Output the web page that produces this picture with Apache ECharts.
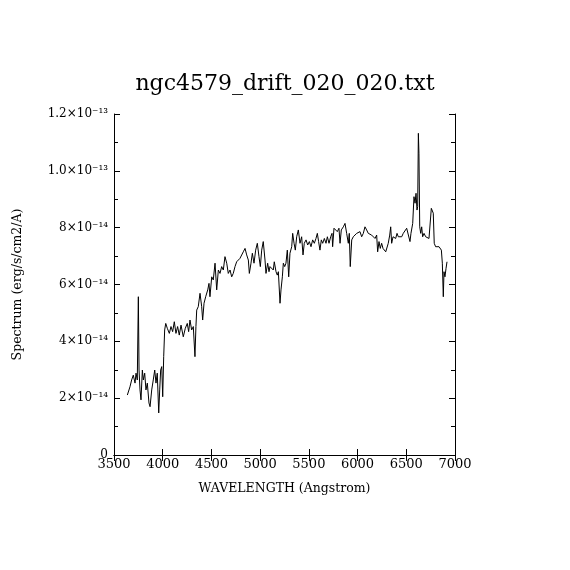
<!DOCTYPE html>
<html>
<head>
<meta charset="utf-8">
<script src="https://cdn.jsdelivr.net/npm/echarts@6/dist/echarts.min.js"></script>
<style>
  html, body { margin: 0; padding: 0; background: #fff; }
  #main { width: 570px; height: 570px; }
</style>
</head>
<body>
<div id="main"></div>
<script>
var myChart = echarts.init(document.getElementById('main'));

// wavelength in Angstrom, flux in units of 1e-14 erg/s/cm2/A
const wavelength = [
  3637, 3664, 3681, 3698, 3716, 3726, 3739, 3750, 3757, 3767, 3777, 3791, 3801, 3815, 3828, 3842,
  3859, 3870, 3887, 3903, 3918, 3931, 3944, 3959, 3969, 3979, 3990, 4000, 4010, 4020, 4031, 4047,
  4068, 4085, 4102, 4119, 4136, 4153, 4170, 4188, 4211, 4232, 4252, 4266, 4280, 4297, 4314, 4331,
  4341, 4349, 4365, 4383, 4400, 4410, 4424, 4441, 4462, 4475, 4485, 4503, 4519, 4537, 4554, 4571,
  4588, 4605, 4622, 4639, 4657, 4673, 4691, 4708, 4724, 4742, 4759, 4776, 4793, 4811, 4827, 4845,
  4862, 4879, 4889, 4906, 4920, 4937, 4954, 4971, 4988, 5002, 5016, 5032, 5050, 5060, 5077, 5091,
  5101, 5119, 5135, 5145, 5163, 5176, 5187, 5204, 5214, 5228, 5238, 5252, 5265, 5279, 5293, 5306,
  5324, 5334, 5348, 5361, 5375, 5392, 5409, 5426, 5440, 5453, 5471, 5488, 5505, 5522, 5539, 5556,
  5573, 5587, 5600, 5614, 5628, 5642, 5659, 5676, 5690, 5707, 5724, 5738, 5744, 5758, 5775, 5792,
  5809, 5820, 5833, 5854, 5871, 5888, 5905, 5915, 5925, 5940, 5956, 5974, 5991, 6007, 6025, 6042,
  6059, 6076, 6093, 6110, 6128, 6144, 6161, 6179, 6196, 6206, 6220, 6233, 6247, 6261, 6274, 6289,
  6302, 6315, 6330, 6340, 6350, 6364, 6377, 6391, 6405, 6418, 6436, 6453, 6469, 6487, 6504, 6521,
  6538, 6548, 6566, 6579, 6590, 6600, 6610, 6617, 6624, 6630, 6638, 6648, 6658, 6668, 6682, 6699,
  6716, 6733, 6746, 6757, 6767, 6777, 6787, 6801, 6818, 6836, 6849, 6860, 6870, 6880, 6887, 6897,
  6908, 6918
];
const fluxE14 = [
  2.11, 2.40, 2.64, 2.81, 2.53, 2.88, 2.64, 5.57, 2.99, 2.29, 1.94, 2.99, 2.64, 2.88, 2.29, 2.53,
  1.83, 1.70, 2.29, 2.64, 2.99, 2.53, 2.88, 1.48, 2.29, 2.99, 3.11, 2.05, 3.46, 4.40, 4.63, 4.46,
  4.28, 4.52, 4.34, 4.69, 4.28, 4.52, 4.22, 4.57, 4.16, 4.46, 4.63, 4.34, 4.75, 4.40, 4.52, 3.46,
  4.52, 5.10, 5.22, 5.69, 5.22, 4.75, 5.34, 5.57, 5.81, 6.04, 5.57, 6.27, 6.16, 6.75, 5.81, 6.51,
  6.39, 6.63, 6.51, 6.98, 6.75, 6.39, 6.51, 6.27, 6.39, 6.63, 6.80, 6.75, 6.92, 6.98, 7.15, 7.27,
  7.04, 6.86, 6.39, 6.75, 7.10, 6.75, 7.21, 7.45, 6.98, 6.63, 7.21, 7.51, 6.86, 6.39, 6.75, 6.45,
  6.63, 6.69, 6.51, 6.80, 6.45, 6.33, 6.45, 5.34, 5.81, 6.27, 6.75, 6.63, 6.75, 7.21, 6.27, 7.10,
  7.33, 7.80, 7.45, 7.21, 7.68, 7.92, 7.45, 7.68, 7.04, 7.45, 7.57, 7.39, 7.51, 7.33, 7.57, 7.45,
  7.62, 7.80, 7.51, 7.21, 7.57, 7.45, 7.62, 7.45, 7.68, 7.45, 7.68, 7.80, 7.33, 7.98, 7.92, 7.86,
  7.98, 7.45, 7.92, 8.03, 8.15, 7.80, 7.45, 7.80, 6.63, 7.57, 7.68, 7.74, 7.80, 7.74, 7.86, 7.68,
  7.80, 8.03, 7.92, 7.80, 7.86, 7.74, 7.80, 7.62, 7.74, 7.15, 7.51, 7.27, 7.45, 7.27, 7.33, 7.15,
  7.21, 7.45, 7.74, 8.03, 7.45, 7.68, 7.74, 7.62, 7.80, 7.68, 7.74, 7.68, 7.80, 7.74, 7.98, 8.03,
  7.51, 7.80, 8.15, 9.09, 8.86, 9.21, 8.62, 8.74, 11.32, 10.62, 8.03, 7.80, 8.03, 7.68, 7.80, 7.68,
  7.74, 7.62, 7.68, 8.68, 8.62, 8.51, 7.45, 7.33, 7.39, 7.33, 7.35, 7.21, 6.75, 5.57, 6.45, 6.27,
  6.57, 6.80
];
const xTickLabels = ['3500', '4000', '4500', '5000', '5500', '6000', '6500', '7000'];
const yTickLabels = ['0', '2\u00d710\u207b\u00b9\u2074', '4\u00d710\u207b\u00b9\u2074', '6\u00d710\u207b\u00b9\u2074',
  '8\u00d710\u207b\u00b9\u2074', '1.0\u00d710\u207b\u00b9\u00b3', '1.2\u00d710\u207b\u00b9\u00b3'];

const seriesData = wavelength.map(function (w, i) { return [w, fluxE14[i]]; });

const font = 'DejaVu Serif';
const axisLine = { show: true, lineStyle: { color: '#000', width: 1 } };

var option = {
  backgroundColor: '#fff',
  animation: false,
  title: {
    text: 'ngc4579_drift_020_020.txt',
    left: 'center',
    top: 68,
    textStyle: { fontFamily: font, fontSize: 22, fontWeight: 'normal', color: '#000' }
  },
  grid: { left: 114, right: 115, top: 114, bottom: 115 },
  xAxis: [
    {
      type: 'value', min: 3500, max: 7000, interval: 500,
      name: 'WAVELENGTH (Angstrom)', nameLocation: 'middle', nameGap: 27,
      nameTextStyle: { fontFamily: font, fontSize: 12.5, color: '#000' },
      axisLine: axisLine,
      axisTick: { inside: true, length: 6, lineStyle: { color: '#000' } },
      axisLabel: {
        fontFamily: font, fontSize: 13, color: '#000', margin: 3,
        formatter: function (v) { return xTickLabels[Math.round((v - 3500) / 500)]; }
      },
      splitLine: { show: false }
    },
    {
      type: 'value', min: 3500, max: 7000, interval: 500, position: 'top',
      axisLine: axisLine,
      axisTick: { inside: true, length: 6, lineStyle: { color: '#000' } },
      axisLabel: { show: false },
      splitLine: { show: false }
    }
  ],
  yAxis: [
    {
      type: 'value', min: 0, max: 12, interval: 2,
      name: 'Spectrum (erg/s/cm2/A)', nameLocation: 'middle', nameGap: 90, nameRotate: 90,
      nameTextStyle: { fontFamily: font, fontSize: 12.5, color: '#000' },
      axisLine: axisLine,
      axisTick: { inside: true, length: 6, lineStyle: { color: '#000' } },
      minorTick: { show: true, splitNumber: 2, length: 4, lineStyle: { color: '#000' } },
      axisLabel: {
        fontFamily: font, fontSize: 12, color: '#000', margin: 6,
        formatter: function (v) { return yTickLabels[Math.round(v / 2)]; }
      },
      splitLine: { show: false }
    },
    {
      type: 'value', min: 0, max: 12, interval: 2, position: 'right',
      axisLine: axisLine,
      axisTick: { inside: true, length: 6, lineStyle: { color: '#000' } },
      minorTick: { show: true, splitNumber: 2, length: 4, lineStyle: { color: '#000' } },
      axisLabel: { show: false },
      splitLine: { show: false }
    }
  ],
  series: [
    {
      type: 'line',
      data: seriesData,
      showSymbol: false,
      lineStyle: { color: '#000', width: 1 },
      silent: true
    }
  ]
};

myChart.setOption(option);
</script>
</body>
</html>
